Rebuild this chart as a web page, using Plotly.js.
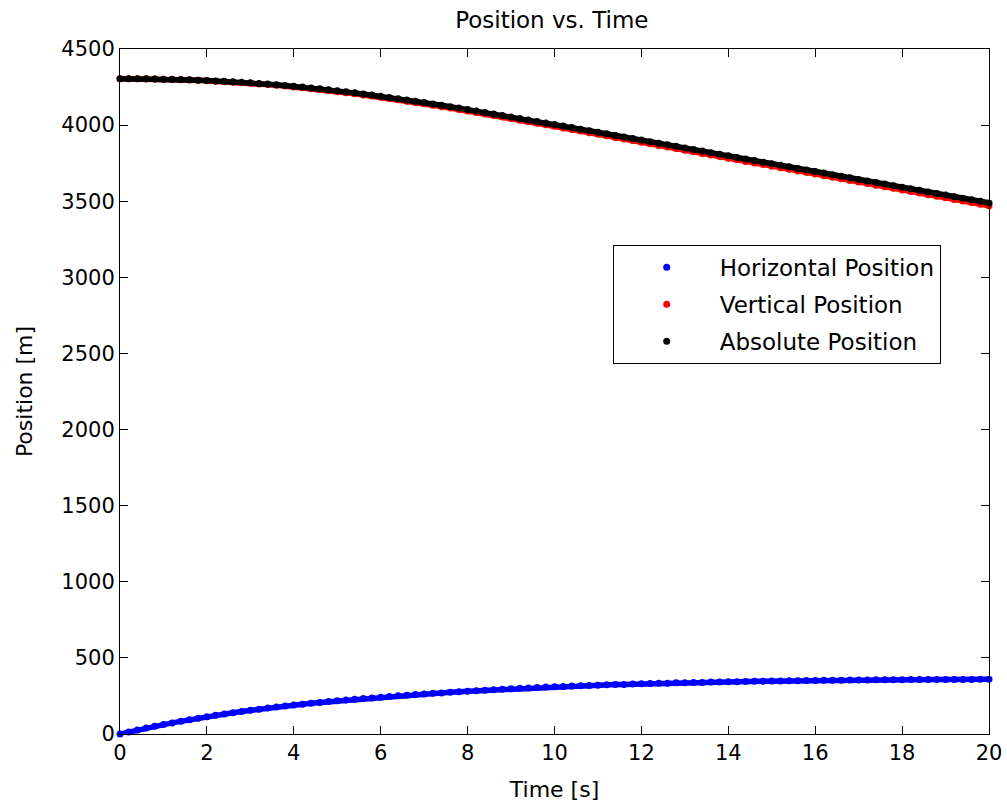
<!DOCTYPE html>
<html>
<head>
<meta charset="utf-8">
<script src="https://cdn.plot.ly/plotly-3.0.1.min.js"></script>
<style>html,body{margin:0;padding:0;background:#fff;}#chart{width:1007px;height:810px;}</style>
</head>
<body>
<div id="chart"></div>
<script>
// Time [s]
const time = [0,0.2,0.4,0.6,0.8,1,1.2,1.4,1.6,1.8,2,2.2,2.4,2.6,2.8,3,3.2,3.4,3.6,3.8,4,4.2,4.4,4.6,4.8,5,5.2,5.4,5.6,5.8,6,6.2,6.4,6.6,6.8,7,7.2,7.4,7.6,7.8,8,8.2,8.4,8.6,8.8,9,9.2,9.4,9.6,9.8,10,10.2,10.4,10.6,10.8,11,11.2,11.4,11.6,11.8,12,12.2,12.4,12.6,12.8,13,13.2,13.4,13.6,13.8,14,14.2,14.4,14.6,14.8,15,15.2,15.4,15.6,15.8,16,16.2,16.4,16.6,16.8,17,17.2,17.4,17.6,17.8,18,18.2,18.4,18.6,18.8,19,19.2,19.4,19.6,19.8,20];

// Horizontal position [m]
const horizontal = [0,13.5,26.5,39,51,62,73,83,94,104,114,123,131,140,148,156,163,170,177,184,190,196,202,207,213,218,223,228,233,237,242,246,251,255,259,263,267,270,274,278,281,284,288,291,294,297,300,302,305,308,310,312,315,317,319,321,323,325,326,328,330,331.5,333,334,336,337,338,339,341,342,343,344,345,346,347,347.5,348.5,349,350,351,352,352.6,353.2,353.8,354.4,355,355.4,355.8,356.2,356.6,357,357.3,357.5,357.8,358,358.3,358.4,358.6,358.7,358.9,359];

// Vertical position [m]
const vertical = [4305,4304.9,4304.4,4303.7,4302.8,4301.6,4300.1,4298.3,4296.3,4294,4291.5,4288.8,4285.6,4282.2,4278.7,4274.7,4270.5,4266,4261.2,4256.2,4250.8,4245.2,4239.2,4233.1,4226.7,4219.9,4212.9,4205.7,4198.2,4190.5,4182.5,4174.4,4166,4157.4,4148.7,4139.7,4130.6,4121.3,4111.9,4102.4,4092.7,4082.9,4073,4063,4053,4042.9,4032.7,4022.6,4012.4,4002,3991.8,3981.4,3971.1,3960.7,3950.4,3940,3929.6,3919.1,3908.7,3898.2,3887.8,3877.3,3866.8,3856.3,3845.9,3835.3,3824.8,3814.2,3803.6,3793.1,3782.5,3772.1,3761.7,3751.3,3740.8,3730.4,3720,3709.5,3699.1,3688.7,3678.2,3667.8,3657.4,3647,3636.6,3626.2,3615.8,3605.5,3595.1,3584.7,3574.3,3563.9,3553.6,3543.2,3532.8,3522.4,3512,3501.7,3491.3,3480.9,3470.5];

// Absolute position [m]
const absolute = [4305,4304.9,4304.5,4303.9,4303.1,4302,4300.7,4299.1,4297.3,4295.3,4293,4290.5,4287.6,4284.5,4281.2,4277.5,4273.6,4269.3,4264.8,4260.1,4255,4249.7,4244,4238.1,4232,4225.5,4218.8,4211.8,4204.6,4197.2,4189.5,4181.6,4173.5,4165.2,4156.7,4148,4139.1,4130.1,4121,4111.7,4102.3,4092.7,4083.1,4073.4,4063.6,4053.8,4043.8,4033.9,4023.9,4013.8,4003.8,3993.6,3983.5,3973.3,3963.2,3953,3942.8,3932.5,3922.3,3912,3901.8,3891.4,3881.1,3870.7,3860.4,3850,3839.6,3829.2,3818.8,3808.4,3798,3787.7,3777.4,3767.1,3756.8,3746.5,3736.2,3725.9,3715.6,3705.3,3695,3684.7,3674.4,3664.1,3653.8,3643.5,3633.2,3622.9,3612.6,3602.3,3592,3581.7,3571.4,3561.1,3550.8,3540.5,3530.2,3519.9,3509.6,3499.3,3489];

const seriesNames = ["Horizontal Position", "Vertical Position", "Absolute Position"];
const seriesColors = ["#0000ff", "#ff0000", "#000000"];
const seriesData = [horizontal, vertical, absolute];

const FONT = "DejaVu Sans, Verdana, sans-serif";

const traces = [];
seriesData.forEach((ys, i) => {
  // dense band joining the dots (the dots in the original overlap into a band)
  traces.push({
    type: "scatter", mode: "lines", x: time, y: ys,
    line: {color: seriesColors[i], width: 5.5},
    showlegend: false, hoverinfo: "skip", legendgroup: "g" + i, cliponaxis: false
  });
  traces.push({
    type: "scatter", mode: "markers", x: time, y: ys,
    name: seriesNames[i], legendgroup: "g" + i,
    marker: {color: seriesColors[i], size: 7, line: {width: 0}},
    cliponaxis: false
  });
});

const axisCommon = {
  showline: true,
  linecolor: "#000",
  linewidth: 1,
  mirror: "allticks",
  ticks: "inside",
  ticklen: 8,
  tickwidth: 1,
  tickcolor: "#000",
  showgrid: false,
  zeroline: false,
  tickfont: {family: FONT, size: 21, color: "#000"}
};

const layout = {
  width: 1007,
  height: 810,
  paper_bgcolor: "#fff",
  plot_bgcolor: "#fff",
  margin: {l: 120, r: 18, t: 49, b: 76},
  title: {text: "Position vs. Time", font: {family: FONT, size: 23, color: "#000"}, x: 0.548, xanchor: "center", y: 0.975, yanchor: "middle"},
  xaxis: Object.assign({}, axisCommon, {
    range: [0, 20], tickmode: "linear", tick0: 0, dtick: 2,
    title: {text: "Time [s]", font: {family: FONT, size: 22, color: "#000"}, standoff: 17}
  }),
  yaxis: Object.assign({}, axisCommon, {
    range: [0, 4500], tickmode: "linear", tick0: 0, dtick: 500,
    title: {text: "Position [m]", font: {family: FONT, size: 22, color: "#000"}, standoff: 22}
  }),
  showlegend: true,
  legend: {
    x: 0.567, y: 0.714, xanchor: "left", yanchor: "top",
    bgcolor: "#fff", bordercolor: "#000", borderwidth: 1,
    font: {family: FONT, size: 23, color: "#000"},
    itemwidth: 96,
    tracegroupgap: 4,
    traceorder: "grouped"
  }
};

Plotly.newPlot("chart", traces, layout, {staticPlot: true, displayModeBar: false});
</script>
</body>
</html>
